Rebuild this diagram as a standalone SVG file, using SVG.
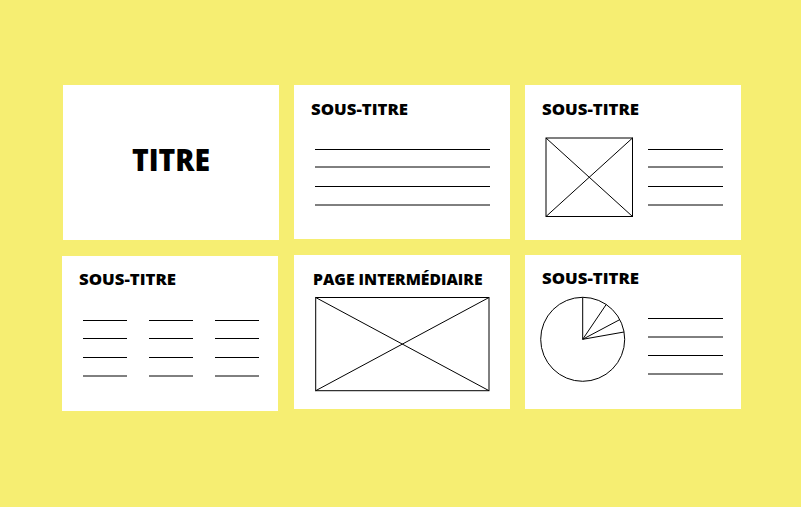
<svg xmlns="http://www.w3.org/2000/svg" width="801" height="507" viewBox="0 0 801 507">
<style>
.card{fill:#ffffff}
.t{font-family:"Open Sans","Liberation Sans",sans-serif;font-weight:800;fill:#000}
.st{font-size:16.5px}
.ln{stroke:#000;stroke-width:1;fill:none}
</style>
<rect x="0" y="0" width="801" height="507" fill="#F6EE72"/>
<g id="card1">
<rect class="card" x="63" y="85" width="216" height="155"/>
<text class="t" x="132" y="170.5" font-size="30" textLength="78" lengthAdjust="spacingAndGlyphs">TITRE</text>
</g>
<g id="card2">
<rect class="card" x="294" y="85" width="216" height="154"/>
<text class="t st" x="311" y="114.5" textLength="97" lengthAdjust="spacingAndGlyphs">SOUS-TITRE</text>
<path class="ln" d="M315 149.5H490M315 167H490M315 186.5H490M315 205H490"/>
</g>
<g id="card3">
<rect class="card" x="525" y="85" width="216" height="155"/>
<text class="t st" x="542" y="114.5" textLength="97" lengthAdjust="spacingAndGlyphs">SOUS-TITRE</text>
<rect class="ln" x="546" y="138" width="86.5" height="78.5"/>
<path class="ln" d="M546 138L632.5 216.5M632.5 138L546 216.5"/>
<path class="ln" d="M648 149.5H723M648 167H723M648 186.5H723M648 205H723"/>
</g>
<g id="card4">
<rect class="card" x="62" y="256" width="216" height="155"/>
<text class="t st" x="79" y="285.3" textLength="97" lengthAdjust="spacingAndGlyphs">SOUS-TITRE</text>
<path class="ln" d="M83 320.5H127M83 338.5H127M83 357.5H127M83 376H127M149 320.5H193M149 338.5H193M149 357.5H193M149 376H193M215 320.5H259M215 338.5H259M215 357.5H259M215 376H259"/>
</g>
<g id="card5">
<rect class="card" x="294" y="255" width="216" height="154"/>
<text class="t st" x="313" y="284.7" textLength="169.5" lengthAdjust="spacingAndGlyphs">PAGE INTERMÉDIAIRE</text>
<rect class="ln" x="315.7" y="297.5" width="173.3" height="93.2"/>
<path class="ln" d="M315.7 297.5L489 390.7M489 297.5L315.7 390.7"/>
</g>
<g id="card6">
<rect class="card" x="525" y="255" width="216" height="154"/>
<text class="t st" x="542" y="284" textLength="97" lengthAdjust="spacingAndGlyphs">SOUS-TITRE</text>
<circle class="ln" cx="582.7" cy="339.3" r="42"/>
<path class="ln" d="M582.7 297.3V339.3L606.2 304.5M582.7 339.3L619.8 319.6M582.7 339.3L624 332"/>
<path class="ln" d="M648 318.5H723M648 337H723M648 355.5H723M648 374H723"/>
</g>
</svg>
